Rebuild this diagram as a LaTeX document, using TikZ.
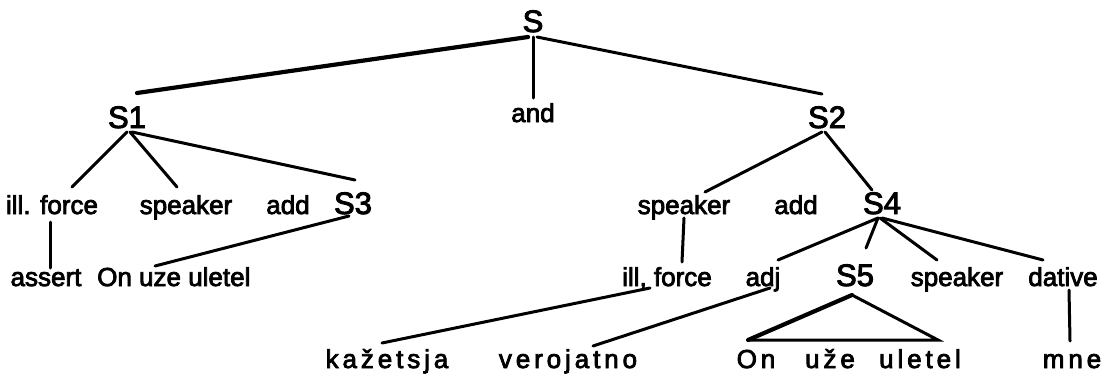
\documentclass[tikz,border=0pt]{standalone}
\usepackage{fontspec}
\setmainfont{Liberation Sans}
\newfontfamily\labelfont[FakeBold=3]{Liberation Sans}
\newfontfamily\spacedfont[FakeBold=3,LetterSpace=15]{Liberation Sans}
\begin{document}
\begin{tikzpicture}[x=1pt,y=1pt,
  word/.style={anchor=base,inner sep=0pt,font=\fontsize{26}{30}\labelfont},
  sym/.style={anchor=base,inner sep=0pt,font=\fontsize{31}{34}\labelfont},
  leaf/.style={anchor=base,inner sep=0pt,font=\fontsize{26}{30}\spacedfont},
  branch/.style={line width=3pt,line cap=round},
  heavy/.style={line width=4.2pt,line cap=round}]
\useasboundingbox (0,0) rectangle (1115,-375);

% top levels
\node[sym]  (S)   at (533,-32)  {S};
\node[sym]  (S1)  at (127,-128) {S1};
\node[word] (and) at (533,-122) {and};
\node[sym]  (S2)  at (827,-128) {S2};

% left conjunct
\node[word] (ill1) at (52,-214)  {ill. force};
\node[word] (spk1) at (186,-214) {speaker};
\node[word] (add1) at (288,-214) {add};
\node[sym]  (S3)   at (353,-214) {S3};
\node[word] (ass)  at (46,-286)  {assert};
\node[word,anchor=base west] (onuze) at (97,-286) {On uze uletel};

% right conjunct
\node[word] (spk2) at (684,-214) {speaker};
\node[word] (add2) at (796,-214) {add};
\node[sym]  (S4)   at (882,-214) {S4};
\node[word] (ill2) at (667,-286) {ill, force};
\node[word] (adj)  at (763,-286) {adj};
\node[sym]  (S5)   at (855,-286) {S5};
\node[word] (spk3) at (957,-286) {speaker};
\node[word] (dat)  at (1063,-286) {dative};

% surface words
\node[leaf] (kaz)  at (387,-368) {kažetsja};
\node[leaf] (ver)  at (568,-368) {verojatno};
\node[leaf] (on)   at (756,-368) {On};
\node[leaf] (uze)  at (830,-368) {uže};
\node[leaf] (ulet) at (920,-368) {uletel};
\node[leaf] (mne)  at (1072,-368) {mne};

% branches
\draw[heavy]  ([shift={(-5,-5)}]S.base) -- ([shift={(10,35)}]S1.base);
\draw[branch] ([shift={(4,-5)}]S.base) -- ([shift={(-5,34)}]S2.base);
\draw[branch] ([shift={(0,-5)}]S.base) -- ([shift={(0,24)}]and.base);

\draw[branch] ([shift={(0,-4)}]S1.base) -- ([shift={(20,27)}]ill1.base);
\draw[branch] ([shift={(3,-4)}]S1.base) -- ([shift={(-9,27)}]spk1.base);
\draw[branch] ([shift={(5,-4)}]S1.base) -- ([shift={(2,34)}]S3.base);
\draw[branch] ([shift={(-2,-8)}]ill1.base) -- ([shift={(4,18)}]ass.base);
\draw[branch] ([shift={(-4,-2)}]S3.base) -- ([shift={(58,20)}]onuze.base west);

\draw[branch] ([shift={(-5,-4)}]S2.base) -- ([shift={(21,22)}]spk2.base);
\draw[branch] ([shift={(-2,-4)}]S2.base) -- ([shift={(-10,24)}]S4.base);
\draw[branch] ([shift={(0,-4)}]spk2.base) -- ([shift={(15,24)}]ill2.base);
\draw[branch] ([shift={(-4,-4)}]S4.base) -- ([shift={(15,26)}]adj.base);
\draw[branch] ([shift={(-4,-4)}]S4.base) -- ([shift={(11,38)}]S5.base);
\draw[branch] ([shift={(-2,-4)}]S4.base) -- ([shift={(-20,26)}]spk3.base);
\draw[branch] ([shift={(0,-4)}]S4.base) -- ([shift={(-20,26)}]dat.base);
\draw[branch] ([shift={(6,-4)}]dat.base) -- ([shift={(-2,27)}]mne.base);
\draw[branch] ([shift={(-17,-2)}]ill2.base) -- ([shift={(-5,25)}]kaz.base);
\draw[branch] ([shift={(7,-2)}]adj.base) -- ([shift={(25,22)}]ver.base);

% roof over S5
\draw[heavy] ([shift={(-3,-9)}]S5.base) -- ([shift={(-8,28)}]on.base);
\draw[branch] ([shift={(-3,-9)}]S5.base) -- ([shift={(18,28)}]ulet.base)
  -- ([shift={(-8,28)}]on.base);
\end{tikzpicture}
\end{document}
